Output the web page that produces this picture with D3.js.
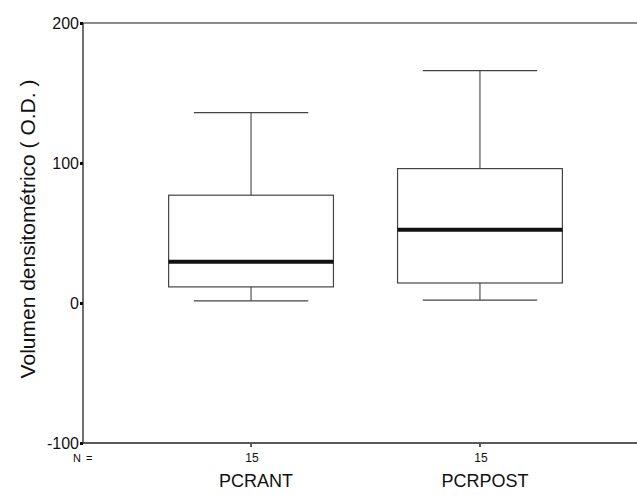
<!DOCTYPE html>
<html>
<head>
<meta charset="utf-8">
<script src="https://cdn.jsdelivr.net/npm/d3@7"></script>
<style>
  body { margin: 0; background: #fff; }
  text { font-family: "Liberation Sans", Arial, sans-serif; fill: #111; }
</style>
</head>
<body>
<div id="chart"></div>
<script>
// box summaries
const categories = ["PCRANT", "PCRPOST"];
const nCounts = [15, 15];
const mins = [1.5, 2];
const q1s = [11.5, 14.3];
const medians = [29.4, 52.4];
const q3s = [77, 96];
const maxs = [136, 166];
const yTicks = [-100, 0, 100, 200];

const width = 637, height = 495;
const plotLeft = 83, plotTop = 23, plotBottom = 443;

const svg = d3.select("#chart")
  .append("svg")
  .attr("width", width)
  .attr("height", height);

const y = d3.scaleLinear()
  .domain([-100, 200])
  .range([plotBottom, plotTop]);

const x = d3.scalePoint()
  .domain(categories)
  .range([plotLeft, 648])
  .padding(0.734);

const step = x.step();
const boxW = step * 0.72;
const capW = step * 0.5;

// top border line
svg.append("line")
  .attr("x1", plotLeft).attr("x2", width)
  .attr("y1", y(200)).attr("y2", y(200))
  .style("stroke", "#666")
  .style("stroke-width", 1.5);

// y axis
const yAxis = svg.append("g")
  .attr("transform", `translate(${plotLeft},0)`)
  .call(d3.axisLeft(y).tickValues(yTicks).tickSize(3).tickPadding(1)
    .tickFormat(d => String(d)))
  .style("font-size", "16px");
yAxis.select(".domain").remove();
yAxis.selectAll(".tick line").style("stroke-width", 3);
yAxis.selectAll(".tick text").style("fill", "#111");

svg.append("line")
  .attr("x1", plotLeft).attr("x2", plotLeft)
  .attr("y1", y(200)).attr("y2", y(-100))
  .style("stroke", "#222")
  .style("stroke-width", 1.3);

// x axis
svg.append("line")
  .attr("x1", plotLeft).attr("x2", width)
  .attr("y1", y(-100)).attr("y2", y(-100))
  .style("stroke", "#222")
  .style("stroke-width", 1.5);

svg.selectAll(".xtick")
  .data(categories)
  .join("line")
  .attr("class", "xtick")
  .attr("x1", d => x(d)).attr("x2", d => x(d))
  .attr("y1", y(-100) + 1).attr("y2", y(-100) + 4)
  .style("stroke", "#222")
  .style("stroke-width", 1.5);

svg.append("text")
  .attr("x", 73)
  .attr("y", 462)
  .style("font-size", "11px")
  .style("word-spacing", "2px")
  .text("N =");

svg.selectAll(".ncount")
  .data(categories)
  .join("text")
  .attr("class", "ncount")
  .attr("x", d => x(d) + 1)
  .attr("y", 462)
  .attr("text-anchor", "middle")
  .style("font-size", "12px")
  .text((d, i) => nCounts[i]);

svg.selectAll(".catlabel")
  .data(categories)
  .join("text")
  .attr("class", "catlabel")
  .attr("x", d => x(d) + 5)
  .attr("y", 487)
  .attr("text-anchor", "middle")
  .style("font-size", "18px")
  .text(d => d);

// y axis label
svg.append("text")
  .attr("transform", "translate(35,229) rotate(-90)")
  .attr("text-anchor", "middle")
  .style("font-size", "21px")
  .text("Volumen densitométrico ( O.D. )");

// boxes
const boxes = svg.selectAll(".box")
  .data(categories)
  .join("g")
  .attr("class", "box");

boxes.append("line")
  .attr("x1", d => x(d)).attr("x2", d => x(d))
  .attr("y1", (d, i) => y(maxs[i])).attr("y2", (d, i) => y(q3s[i]))
  .style("stroke", "#333");

boxes.append("line")
  .attr("x1", d => x(d)).attr("x2", d => x(d))
  .attr("y1", (d, i) => y(q1s[i])).attr("y2", (d, i) => y(mins[i]))
  .style("stroke", "#333");

boxes.append("line")
  .attr("x1", d => x(d) - capW / 2).attr("x2", d => x(d) + capW / 2)
  .attr("y1", (d, i) => y(maxs[i])).attr("y2", (d, i) => y(maxs[i]))
  .style("stroke", "#444")
  .style("stroke-width", 1.3);

boxes.append("line")
  .attr("x1", d => x(d) - capW / 2).attr("x2", d => x(d) + capW / 2)
  .attr("y1", (d, i) => y(mins[i])).attr("y2", (d, i) => y(mins[i]))
  .style("stroke", "#444")
  .style("stroke-width", 1.3);

boxes.append("rect")
  .attr("x", d => x(d) - boxW / 2)
  .attr("y", (d, i) => y(q3s[i]))
  .attr("width", boxW)
  .attr("height", (d, i) => y(q1s[i]) - y(q3s[i]))
  .style("fill", "none")
  .style("stroke", "#444")
  .style("stroke-width", 1.2);

boxes.append("line")
  .attr("x1", d => x(d) - boxW / 2).attr("x2", d => x(d) + boxW / 2)
  .attr("y1", (d, i) => y(medians[i])).attr("y2", (d, i) => y(medians[i]))
  .style("stroke", "#111")
  .style("stroke-width", 4);
</script>
</body>
</html>
